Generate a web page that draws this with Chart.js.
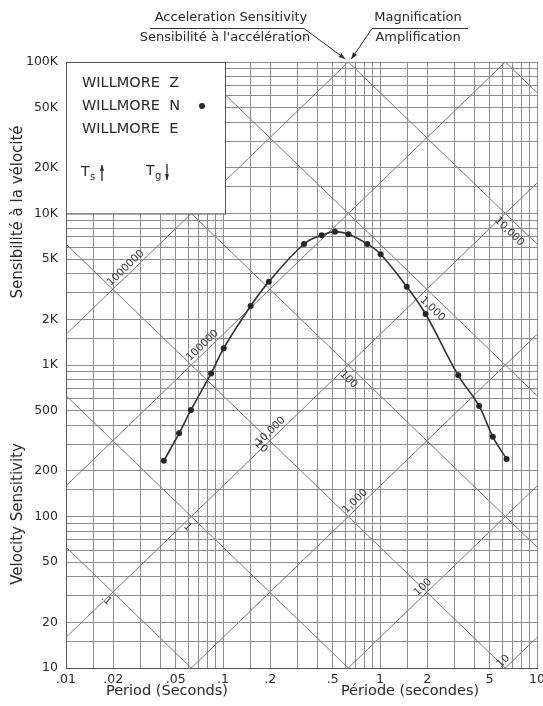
<!DOCTYPE html>
<html>
<head>
<meta charset="utf-8">
<script src="https://cdn.jsdelivr.net/npm/chart.js@4.4.1/dist/chart.umd.min.js"></script>
<style>
  html, body { margin: 0; padding: 0; background: #fff; }
  #wrap { width: 543px; height: 706px; }
</style>
</head>
<body>
<div id="wrap"><canvas id="chart" width="543" height="706"></canvas></div>
<script>
// ---- values (Willmore N) ----
const periods = [0.042, 0.0525, 0.0625, 0.084, 0.101, 0.15, 0.196, 0.328, 0.425, 0.517, 0.63, 0.83, 1.01, 1.48, 1.95, 3.15, 4.28, 5.23, 6.4];
const sensN   = [233, 354, 505, 880, 1290, 2450, 3550, 6290, 7180, 7590, 7300, 6290, 5380, 3290, 2170, 855, 536, 336, 240];

// ---- axes ----
const xTickValues = [0.01, 0.02, 0.05, 0.1, 0.2, 0.5, 1, 2, 5, 10];
const xTickLabels = ['.01', '.02', '.05', '.1', '.2', '.5', '1', '2', '5', '10'];
const yTickValues = [10, 20, 50, 100, 200, 500, 1000, 2000, 5000, 10000, 20000, 50000, 100000];
const yTickLabels = ['10', '20', '50', '100', '200', '500', '1K', '2K', '5K', '10K', '20K', '50K', '100K'];
const gridSteps = [1, 1.5, 2, 3, 4, 5, 6, 7, 8, 9];

// ---- diagonal scales: acceleration (rising) and magnification (falling) ----
const accelLevels  = [10, 100, 1000, 1e4, 1e5, 1e6, 1e7];
const accelLabels  = ['10', '100', '1,000', '10,000', '100000', '1000000', ''];
const accelLabelAt = [6.5, 2.0, 0.74, 0.214, 0.079, 0.0256, null];
const magnLevels   = [0.1, 1, 10, 100, 1000, 1e4, 1e5];
const magnLabels   = ['.1', '1', '10', '100', '1,000', '10,000', ''];
const magnLabelAt  = [0.02, 0.066, 0.194, 0.7, 2.4, 7.4, null];

const FONT = "'DejaVu Sans', 'Liberation Sans', Arial, sans-serif";
const GRID = '#8d8d8d';
const INK = '#2a2a2a';

function gridValues(fromExp, toExp) {
  const vals = [];
  for (let e = fromExp; e < toExp; e++) {
    gridSteps.forEach(s => vals.push(+(s * Math.pow(10, e)).toPrecision(6)));
  }
  vals.push(Math.pow(10, toExp));
  return vals;
}

function tickText(values, labels, v) {
  const i = values.findIndex(t => Math.abs(t - v) / t < 1e-6);
  return i < 0 ? '' : labels[i];
}

function arrow(ctx, x1, y1, x2, y2, head) {
  const a = Math.atan2(y2 - y1, x2 - x1);
  ctx.beginPath(); ctx.moveTo(x1, y1); ctx.lineTo(x2, y2); ctx.stroke();
  ctx.beginPath();
  ctx.moveTo(x2, y2);
  ctx.lineTo(x2 - head * Math.cos(a - 0.35), y2 - head * Math.sin(a - 0.35));
  ctx.lineTo(x2 - head * Math.cos(a + 0.35), y2 - head * Math.sin(a + 0.35));
  ctx.closePath(); ctx.fill();
}

// tripartite diagonals + legend box, drawn under the data
const paperPlugin = {
  id: 'paper',
  beforeDatasetsDraw(chart) {
    const { ctx, chartArea: a, scales: { x, y } } = chart;
    ctx.save();
    ctx.beginPath(); ctx.rect(a.left, a.top, a.right - a.left, a.bottom - a.top); ctx.clip();
    ctx.strokeStyle = '#7a7a7a';
    ctx.lineWidth = 1;
    const line = (fn, lvl) => {
      ctx.beginPath();
      ctx.moveTo(x.getPixelForValue(0.001), y.getPixelForValue(fn(lvl, 0.001)));
      ctx.lineTo(x.getPixelForValue(100), y.getPixelForValue(fn(lvl, 100)));
      ctx.stroke();
    };
    const accV = (A, T) => A * T / (2 * Math.PI);
    const magV = (M, T) => 2 * Math.PI * M / T;
    accelLevels.forEach(A => line(accV, A));
    magnLevels.forEach(M => line(magV, M));

    // labels sitting along the diagonals
    ctx.fillStyle = '#3a3a3a';
    ctx.font = '10.5px ' + FONT;
    ctx.textAlign = 'center';
    const label = (fn, lvl, T, text, above) => {
      const px = x.getPixelForValue(T), py = y.getPixelForValue(fn(lvl, T));
      const qx = x.getPixelForValue(T * 1.2), qy = y.getPixelForValue(fn(lvl, T * 1.2));
      ctx.save();
      ctx.translate(px, py);
      ctx.rotate(Math.atan2(qy - py, qx - px));
      ctx.textBaseline = above ? 'bottom' : 'top';
      ctx.fillText(text, 0, above ? -1 : 5);
      ctx.restore();
    };
    accelLevels.forEach((A, i) => { if (accelLabelAt[i]) label(accV, A, accelLabelAt[i], accelLabels[i], true); });
    magnLevels.forEach((M, i) => { if (magnLabelAt[i]) label(magV, M, magnLabelAt[i], magnLabels[i], false); });
    ctx.restore();

    // legend box in the upper left corner
    const bx = a.left, by = a.top, bw = x.getPixelForValue(0.1) - a.left + 2, bh = y.getPixelForValue(10000) - a.top;
    ctx.save();
    ctx.fillStyle = '#fff';
    ctx.fillRect(bx + 1, by + 1, bw - 1, bh - 1);
    ctx.strokeStyle = '#555';
    ctx.strokeRect(bx + 0.5, by + 0.5, bw, bh);
    ctx.fillStyle = INK;
    ctx.font = '14.5px ' + FONT;
    ctx.textBaseline = 'middle';
    ctx.textAlign = 'left';
    ctx.fillText('WILLMORE  Z', 82, 83);
    ctx.fillText('WILLMORE  N', 82, 106);
    ctx.fillText('WILLMORE  E', 82, 129);
    ctx.beginPath(); ctx.arc(202, 106, 3, 0, Math.PI * 2); ctx.fill();
    ctx.font = '14px ' + FONT;
    ctx.fillText('T', 81, 172);
    ctx.fillText('T', 146, 171);
    ctx.font = '10px ' + FONT;
    ctx.fillText('s', 90, 177);
    ctx.fillText('g', 155, 176);
    ctx.strokeStyle = INK; ctx.lineWidth = 1.3;
    arrow(ctx, 102, 181, 102, 165, 6);
    arrow(ctx, 167, 164, 167, 180, 6);
    ctx.restore();
  },
  afterDraw(chart) {
    const { ctx, scales: { x, y } } = chart;
    ctx.save();
    ctx.fillStyle = INK;
    ctx.strokeStyle = '#333';
    ctx.lineWidth = 1;
    ctx.font = '13px ' + FONT;
    ctx.textAlign = 'center';
    ctx.textBaseline = 'middle';
    // header above the plot
    ctx.fillText('Acceleration Sensitivity', 231, 18);
    ctx.fillText("Sensibilité à l'accélération", 225, 38);
    ctx.fillText('Magnification', 418, 18);
    ctx.fillText('Amplification', 418, 38);
    ctx.beginPath(); ctx.moveTo(150, 28.5); ctx.lineTo(304, 28.5); ctx.stroke();
    ctx.beginPath(); ctx.moveTo(372, 28.5); ctx.lineTo(468, 28.5); ctx.stroke();
    const tipX = x.getPixelForValue(2 * Math.PI / 10), tipY = y.getPixelForValue(100000);
    arrow(ctx, 304, 28.5, tipX - 3, tipY - 3, 7);
    arrow(ctx, 372, 28.5, tipX + 3, tipY - 3, 7);

    // axis titles
    ctx.font = '14.5px ' + FONT;
    ctx.fillText('Period (Seconds)', 167, 691);
    ctx.fillText('Période (secondes)', 410, 691);
    ctx.font = '15px ' + FONT;
    ctx.save();
    ctx.translate(18, 212); ctx.rotate(-Math.PI / 2);
    ctx.fillText('Sensibilité à la vélocité', 0, 0);
    ctx.restore();
    ctx.save();
    ctx.translate(18, 514); ctx.rotate(-Math.PI / 2);
    ctx.fillText('Velocity Sensitivity', 0, 0);
    ctx.restore();
    ctx.restore();
  }
};

const ctx = document.getElementById('chart');
const chart = new Chart(ctx, {
  type: 'line',
  data: {
    datasets: [{
      data: periods.map((t, i) => ({ x: t, y: sensN[i] })),
      borderColor: '#333',
      borderWidth: 1.6,
      pointRadius: 3,
      pointBackgroundColor: '#262626',
      pointBorderWidth: 0,
      tension: 0.4
    }]
  },
  options: {
    responsive: false,
    animation: false,
    devicePixelRatio: 1,
    layout: { padding: { top: 62, right: 6, left: 0, bottom: 0 } },
    plugins: { legend: { display: false }, tooltip: { enabled: false } },
    scales: {
      x: {
        type: 'logarithmic', min: 0.01, max: 10,
        afterBuildTicks: s => { s.ticks = gridValues(-2, 1).map(v => ({ value: v })); },
        afterFit: s => { s.height = 38; s.paddingLeft = 0; s.paddingRight = 0; },
        ticks: { autoSkip: false, maxRotation: 0, padding: 4, color: INK, font: { family: FONT, size: 12.5 },
          callback: v => tickText(xTickValues, xTickLabels, v) },
        grid: { color: GRID, lineWidth: 1, drawTicks: false },
        border: { color: '#555', width: 1 }
      },
      y: {
        type: 'logarithmic', min: 10, max: 100000,
        afterBuildTicks: s => { s.ticks = gridValues(1, 5).map(v => ({ value: v })); },
        afterFit: s => { s.width = 66; s.paddingTop = 0; s.paddingBottom = 0; },
        ticks: { autoSkip: false, padding: 8, color: INK, font: { family: FONT, size: 12.5 },
          callback: v => tickText(yTickValues, yTickLabels, v) },
        grid: { color: GRID, lineWidth: 1, drawTicks: false },
        border: { color: '#555', width: 1 }
      }
    }
  },
  plugins: [paperPlugin]
});
</script>
</body>
</html>
